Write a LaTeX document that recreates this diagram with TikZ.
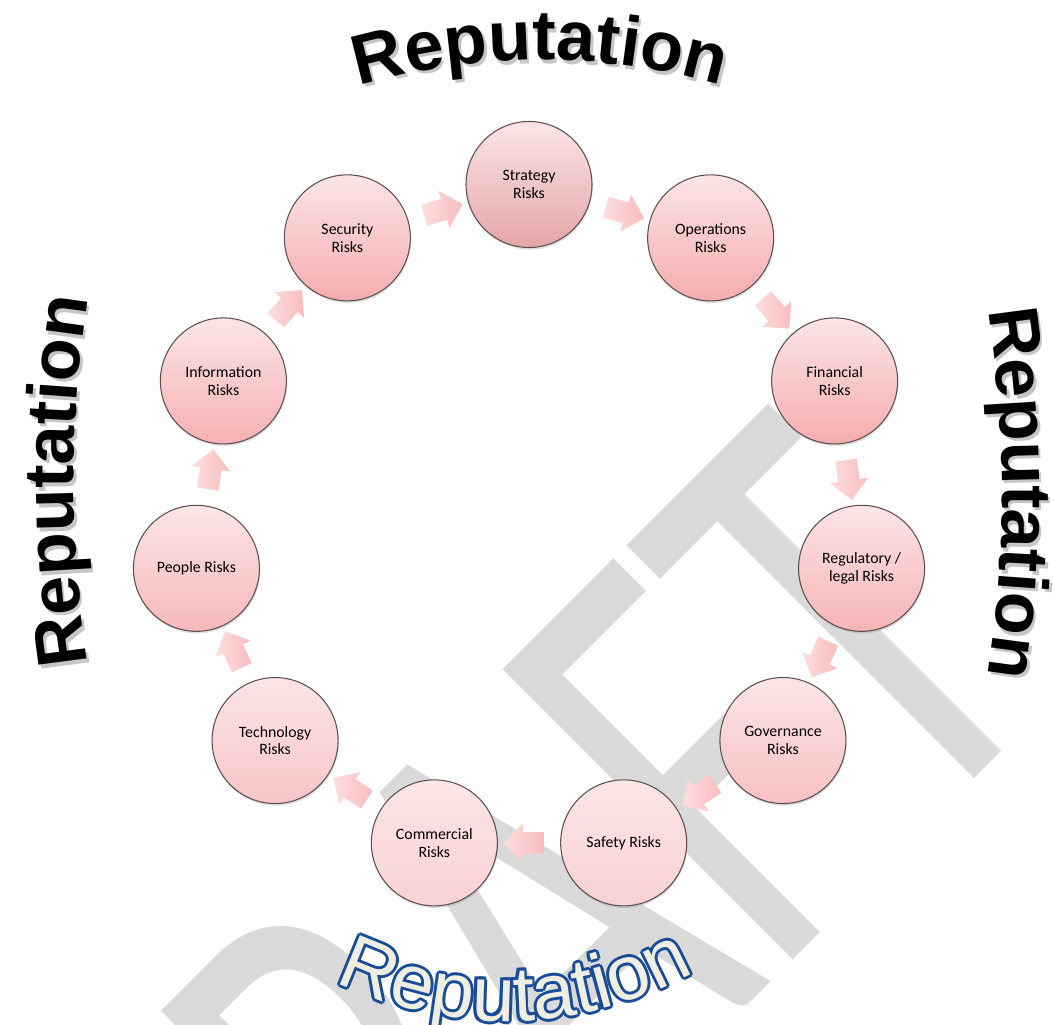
\documentclass[tikz,border=0pt]{standalone}
\usepackage{fontspec}
\setmainfont{Carlito}
\newfontfamily\repfont{Liberation Sans}
\usetikzlibrary{shapes.arrows,shadows,decorations.text}

\definecolor{ballline}{RGB}{94,78,79}
\definecolor{balltop}{RGB}{252,229,230}
\definecolor{ballbot}{RGB}{245,172,174}
\definecolor{arrlight}{RGB}{253,222,222}
\definecolor{arrdark}{RGB}{249,188,190}
\definecolor{wmgray}{RGB}{218,218,218}
\definecolor{repblue}{RGB}{24,76,152}
\definecolor{repcream}{RGB}{240,238,226}

\tikzset{
  repdeco/.style={decorate, decoration={text along path, text align=center, text={|#1|Reputation}}}
}

\begin{document}
\begin{tikzpicture}[
    riskball/.style={circle, draw=ballline, line width=0.6pt, minimum size=2.52cm, inner sep=1pt,
      align=center, font=\fontsize{9}{10.2}\selectfont, top color=balltop, bottom color=#1,
      drop shadow={shadow xshift=0.4pt, shadow yshift=-1.2pt, opacity=0.25}},
    blockarrow/.style={single arrow, minimum height=0.8cm, inner xsep=0pt, inner ysep=0.21cm,
      single arrow head extend=0.17cm, left color=arrlight, right color=arrdark},
    wmark/.style={text=wmgray, font=\fontsize{246}{246}\selectfont, inner sep=0pt}
  ]
  \useasboundingbox (0,0) rectangle (21.08,20.48);

  % watermark behind everything
  \begin{scope}
    \clip (0,0) rectangle (21.08,20.48);
    \node[wmark, rotate=45, yscale=1.48, anchor=base east] (draft) at (21.25,6.67) {DRAFT};
  \end{scope}

  % Reputation on the four sides (grey copy first as shadow)
  \foreach \dx/\dy/\col in {0.05/-0.07/gray!45, 0/0/black}{
    \begin{scope}[shift={(10.8+\dx,6.28+\dy)}]
      \path[repdeco={\repfont\bfseries\fontsize{40}{40}\selectfont\color{\col}}]
        (122:13) arc[start angle=122, end angle=58, radius=13];
    \end{scope}
    \begin{scope}[shift={(-3.96+\dx,10.62+\dy)}]
      \path[repdeco={\repfont\bfseries\fontsize{40}{40}\selectfont\color{\col}}]
        (12:24) arc[start angle=12, end angle=-12, radius=24];
    \end{scope}
    \begin{scope}[shift={(25.48+\dx,10.86+\dy)}]
      \path[repdeco={\repfont\bfseries\fontsize{40}{40}\selectfont\color{\col}}]
        (192:24) arc[start angle=192, end angle=168, radius=24];
    \end{scope}
  }
  \begin{scope}[shift={(10.12,7.78)}]
    \foreach \a in {0,45,...,315}
      \path[repdeco={\repfont\fontsize{44}{44}\selectfont\color{repblue}}, shift={(\a:1.7pt)}]
        (-130:7.72) arc[start angle=-130, end angle=-47, radius=7.72];
    \path[repdeco={\repfont\fontsize{44}{44}\selectfont\color{repcream}}]
      (-130:7.72) arc[start angle=-130, end angle=-47, radius=7.72];
  \end{scope}

  % the ring of risks
  \coordinate (ring) at (10.58,10.07);
  \foreach \i/\txt/\bc in {
      0/{Strategy\\Risks}/ballbot!85!gray,
      1/{Operations\\Risks}/ballbot,
      2/{Financial\\Risks}/ballbot,
      3/{Regulatory /\\legal Risks}/ballbot!90!white,
      4/{Governance\\Risks}/ballbot!75!white,
      5/{Safety Risks}/ballbot!55!white,
      6/{Commercial\\Risks}/ballbot!55!white,
      7/{Technology\\Risks}/ballbot!70!white,
      8/{People Risks}/ballbot!85!white,
      9/{Information\\Risks}/ballbot!95!white,
      10/{Security\\Risks}/ballbot}
    \node[riskball=\bc] (risk\i) at ([shift={({90-\i*360/11}:6.72)}]ring) {\txt};

  \foreach \i [evaluate={\j=int(mod(\i+1,11))}] in {0,...,10}{
    \path[allow upside down] (risk\i) -- node[blockarrow, sloped, allow upside down] {} (risk\j);
  }
\end{tikzpicture}
\end{document}
